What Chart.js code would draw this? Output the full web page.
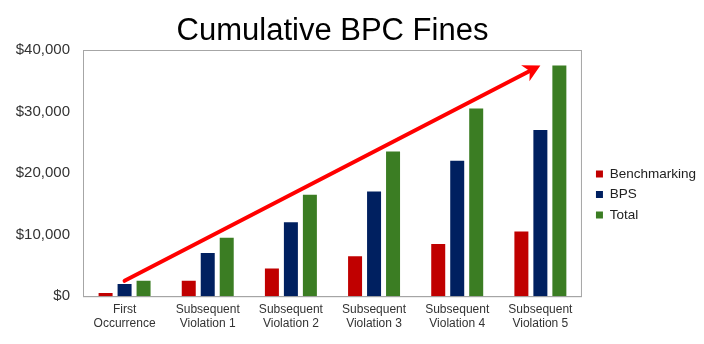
<!DOCTYPE html>
<html>
<head>
  <script src="https://cdn.jsdelivr.net/npm/chart.js@4/dist/chart.umd.min.js"></script>
  <style>
    body { margin: 0; background: #fff; }
    #wrap { width: 704px; height: 344px; }
  </style>
</head>
<body>

<div id="wrap"><canvas id="finesChart"></canvas></div>

<script>
var categories = [
  ["First", "Occurrence"],
  ["Subsequent", "Violation 1"],
  ["Subsequent", "Violation 2"],
  ["Subsequent", "Violation 3"],
  ["Subsequent", "Violation 4"],
  ["Subsequent", "Violation 5"]
];
var benchmarking = [500, 2500, 4500, 6500, 8500, 10500];
var bps = [2000, 7000, 12000, 17000, 22000, 27000];
var total = [2500, 9500, 16500, 23500, 30500, 37500];
var yTicks = [0, 10000, 20000, 30000, 40000];
// trend arrow, in (category index, value)
var arrowFrom = [0, 2500];
var arrowTo = [5, 37500];

Chart.defaults.font.family = "'Liberation Sans', Arial, sans-serif";
Chart.defaults.color = "#333";

// grey box round the plot area
var frame = {
  id: "frame",
  beforeDatasetsDraw: function(chart) {
    var a = chart.chartArea, ctx = chart.ctx;
    ctx.save();
    ctx.strokeStyle = "#a6a6a6";
    ctx.lineWidth = 1;
    ctx.strokeRect(a.left + 0.5, a.top + 0.5, a.right - a.left - 1, a.bottom - a.top);
    ctx.restore();
  }
};

// red trend arrow drawn through the scales
var trendArrow = {
  id: "trendArrow",
  afterDatasetsDraw: function(chart) {
    var xs = chart.scales.x, ys = chart.scales.y, ctx = chart.ctx;
    var x1 = xs.getPixelForValue(arrowFrom[0]), y1 = ys.getPixelForValue(arrowFrom[1]);
    var x2 = xs.getPixelForValue(arrowTo[0]), y2 = ys.getPixelForValue(arrowTo[1]);
    var ang = Math.atan2(y2 - y1, x2 - x1);
    var len = 17, half = 9, notch = 5;
    ctx.save();
    ctx.strokeStyle = "#ff0000";
    ctx.fillStyle = "#ff0000";
    ctx.lineWidth = 4;
    ctx.lineCap = "round";
    ctx.beginPath();
    ctx.moveTo(x1, y1);
    ctx.lineTo(x2 - (len - notch) * Math.cos(ang), y2 - (len - notch) * Math.sin(ang));
    ctx.stroke();
    ctx.translate(x2, y2);
    ctx.rotate(ang);
    ctx.beginPath();
    ctx.moveTo(0, 0);
    ctx.lineTo(-len, -half);
    ctx.lineTo(-len + notch, 0);
    ctx.lineTo(-len, half);
    ctx.closePath();
    ctx.fill();
    ctx.restore();
  }
};

// push the legend a little right and down, like the original
var legendNudge = {
  id: "legendNudge",
  afterLayout: function(chart) {
    var lg = chart.legend;
    lg.left += 7; lg.right += 7;
    lg.top += 26; lg.bottom += 26;
  }
};

var ctx = document.getElementById("finesChart").getContext("2d");
var finesChart = new Chart(ctx, {
  type: "bar",
  data: {
    labels: categories,
    datasets: [
      { label: "Benchmarking", data: benchmarking, backgroundColor: "#c00000" },
      { label: "BPS", data: bps, backgroundColor: "#002060" },
      { label: "Total", data: total, backgroundColor: "#3b7d23" }
    ]
  },
  options: {
    responsive: true,
    maintainAspectRatio: false,
    animation: false,
    layout: { padding: { right: 5, left: 0, top: 0, bottom: 7 } },
    datasets: {
      bar: { categoryPercentage: 0.685, barPercentage: 0.737 }
    },
    plugins: {
      title: {
        display: true,
        text: "Cumulative BPC Fines",
        fullSize: false,
        color: "#000",
        font: { size: 31, weight: "normal", lineHeight: 1.0 },
        padding: { top: 16, bottom: 3 }
      },
      legend: {
        position: "right",
        labels: {
          boxWidth: 7,
          boxHeight: 7,
          padding: 7,
          color: "#222",
          font: { size: 13.5 }
        }
      },
      tooltip: { enabled: false }
    },
    scales: {
      x: {
        grid: { display: false, drawTicks: false },
        border: { color: "#a6a6a6" },
        ticks: { padding: 6, font: { size: 12 }, maxRotation: 0 }
      },
      y: {
        min: 0,
        max: 40000,
        grid: { display: false, drawTicks: false },
        border: { color: "#a6a6a6" },
        afterFit: function(scale) { scale.width = 83; },
        afterBuildTicks: function(scale) {
          scale.ticks = yTicks.map(function(v) { return { value: v }; });
        },
        ticks: {
          padding: 13,
          font: { size: 15 },
          callback: function(v) { return "$" + v.toLocaleString("en-US"); }
        }
      }
    }
  },
  plugins: [frame, trendArrow, legendNudge]
});
</script>

</body>
</html>
